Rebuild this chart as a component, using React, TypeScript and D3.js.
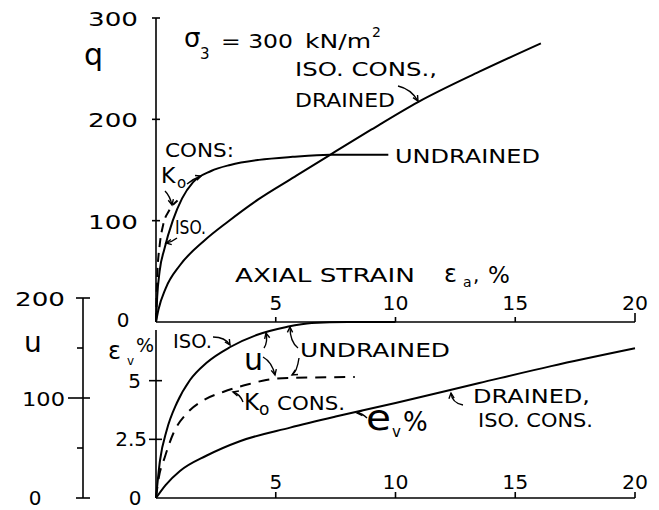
import React from "react";
import * as d3 from "d3";

// ---------- data ----------
const EA_TICKS = [5, 10, 15, 20];
const Q_TICKS = [0, 100, 200, 300];
const U_TICKS = [0, 100, 200];
const U_MINOR = [50, 150];
const EV_TICKS = [0, 2.5, 5];

// top panel: deviator stress q (kN/m2) vs axial strain (%)
const qDrainedIso: [number, number][] = [
  [0, 0], [0.1, 12], [0.4, 33], [1, 56], [2, 80], [3, 99], [4.27, 121],
  [5.8, 143.5], [7.27, 165], [9, 190], [10.94, 217], [13.5, 247], [16.07, 275],
];
const qUndrainedIso: [number, number][] = [
  [0, 0], [0.05, 25], [0.15, 50], [0.35, 72], [0.7, 100], [1.09, 122],
  [1.55, 138], [2.3, 149], [3.1, 155], [4.3, 160], [5.7, 163], [7.27, 165], [9.7, 165],
];
const qUndrainedK0: [number, number][] = [
  [0, 0], [0.05, 45], [0.15, 75], [0.3, 96], [0.55, 110], [0.9, 120],
];

// bottom panel: pore pressure u (kN/m2) and volumetric strain (%)
const uUndrainedIso: [number, number][] = [
  [0, 0], [0.17, 38], [0.45, 68], [0.87, 95], [1.42, 118], [2.1, 135],
  [3.1, 151], [4.2, 163], [5.45, 171], [6.5, 175], [8, 176], [10, 176],
];
const uUndrainedK0: [number, number][] = [
  [0, 0], [0.1, 18], [0.37, 41], [0.73, 65], [1.3, 85], [2.0, 98],
  [2.8, 106], [3.9, 114], [4.6, 118], [5.5, 120], [8.3, 121],
];
const evDrainedIso: [number, number][] = [
  [0, 0], [0.4, 0.55], [1, 1.15], [2.1, 1.8], [3.5, 2.42], [5.6, 3.0],
  [7.5, 3.47], [10, 4.05], [13.5, 4.9], [16.5, 5.62], [20, 6.38],
];

// ---------- scales ----------
const x = d3.scaleLinear().domain([0, 20]).range([156, 635]);
const yq = d3.scaleLinear().domain([0, 300]).range([322, 18]);
const yu = d3.scaleLinear().domain([0, 200]).range([498, 298]);
const yev = d3.scaleLinear().domain([0, 7.5]).range([498, 322]);

const FONT = "DejaVu Sans";

const lineFor = (ys: d3.ScaleLinear<number, number>) =>
  d3
    .line<[number, number]>()
    .x((d) => x(d[0]))
    .y((d) => ys(d[1]))
    .curve(d3.curveMonotoneX);

function T(props: {
  x: number;
  y: number;
  size?: number;
  tl?: number;
  anchor?: string;
  children: React.ReactNode;
}) {
  const { size = 20, tl, anchor = "start" } = props;
  return (
    <text
      x={props.x}
      y={props.y}
      fontFamily={FONT}
      fontSize={size}
      textAnchor={anchor}
      textLength={tl}
      lengthAdjust={tl ? "spacingAndGlyphs" : undefined}
      fill="#000"
    >
      {props.children}
    </text>
  );
}

// little annotation arrow: quadratic from (x0,y0) via (cx,cy) to (x1,y1), head at end
function Arrow({ p }: { p: number[] }) {
  const [x0, y0, cx, cy, x1, y1] = p;
  const ang = Math.atan2(y1 - cy, x1 - cx);
  const L = 6;
  const a1 = ang + Math.PI - 0.45;
  const a2 = ang + Math.PI + 0.45;
  return (
    <g stroke="#000" strokeWidth={1.4} fill="none">
      <path d={`M${x0},${y0}Q${cx},${cy} ${x1},${y1}`} />
      <path
        d={`M${x1 + L * Math.cos(a1)},${y1 + L * Math.sin(a1)}L${x1},${y1}L${
          x1 + L * Math.cos(a2)
        },${y1 + L * Math.sin(a2)}`}
      />
    </g>
  );
}

export default function App() {
  const lq = lineFor(yq);
  const lu = lineFor(yu);
  const lev = lineFor(yev);
  const X0 = x(0);

  return (
    <svg
      width={659}
      height={510}
      style={{ position: "absolute", left: 0, top: 0, background: "#fff" }}
    >
      <rect width={659} height={510} fill="#fff" />

      {/* ---------- TOP PANEL ---------- */}
      <g stroke="#000" strokeWidth={1.6} fill="none">
        <line x1={X0} x2={X0} y1={yq(300)} y2={yq(0)} />
        <line x1={X0} x2={x(20)} y1={yq(0)} y2={yq(0)} />
        {Q_TICKS.filter((v) => v > 0).map((v) => (
          <line key={v} x1={X0 - 4} x2={X0 + 4} y1={yq(v)} y2={yq(v)} />
        ))}
        {EA_TICKS.map((v) => (
          <line key={v} x1={x(v)} x2={x(v)} y1={yq(0)} y2={yq(0) - (v === 20 ? 9 : 5)} />
        ))}
      </g>
      {Q_TICKS.map((v) =>
        v === 0 ? (
          <T key={v} x={123} y={yq(0) + 5} anchor="middle">
            {v}
          </T>
        ) : (
          <T key={v} x={138} y={yq(v) + 8} tl={50} anchor="end">
            {v}
          </T>
        )
      )}
      {EA_TICKS.map((v) => (
        <T key={v} x={x(v)} y={310} anchor="middle" tl={v >= 10 ? 26 : undefined}>
          {v}
        </T>
      ))}

      <g fill="none" stroke="#000" strokeWidth={2}>
        <path d={lq(qDrainedIso) || ""} />
        <path d={lq(qUndrainedIso) || ""} />
        <path d={lq(qUndrainedK0) || ""} strokeDasharray="9,6" />
      </g>

      <T x={84} y={65} size={30}>q</T>
      <T x={184} y={47} size={26}>σ</T>
      <T x={200} y={59} size={15}>3</T>
      <T x={221} y={48} tl={72}>= 300</T>
      <T x={305} y={48} tl={66}>kN/m</T>
      <T x={372} y={37} size={14}>2</T>
      <T x={295} y={76} tl={142}>ISO. CONS.,</T>
      <T x={295} y={107} tl={100}>DRAINED</T>
      <T x={395} y={163} tl={145}>UNDRAINED</T>
      <T x={165} y={157} tl={69}>CONS:</T>
      <T x={161} y={183} size={22}>K</T>
      <T x={177} y={188} size={15}>o</T>
      <T x={175} y={234} tl={31}>ISO.</T>
      <T x={235} y={282} tl={180}>AXIAL  STRAIN</T>
      <T x={444} y={282} size={24}>ε</T>
      <T x={463} y={287} size={14}>a</T>
      <T x={473} y={282}>,</T>
      <T x={488} y={283} size={23}>%</T>

      <Arrow p={[398, 86, 411, 89, 418, 101]} />
      <Arrow p={[165, 191, 170, 196, 172, 205]} />
      <Arrow p={[187, 184, 193, 179, 201, 176]} />
      <Arrow p={[177, 238, 172, 242, 166, 243]} />

      {/* ---------- BOTTOM PANEL ---------- */}
      <g stroke="#000" strokeWidth={1.6} fill="none">
        {/* u axis */}
        <line x1={83} x2={83} y1={yu(200)} y2={yu(0)} />
        {U_TICKS.map((v) => (
          <line key={v} x1={v === 100 ? 68 : 76} x2={90} y1={yu(v)} y2={yu(v)} />
        ))}
        {U_MINOR.map((v) => (
          <line key={v} x1={77} x2={83} y1={yu(v)} y2={yu(v)} />
        ))}
        {/* ev axis */}
        <line x1={X0} x2={X0} y1={330} y2={yev(0)} />
        {EV_TICKS.filter((v) => v > 0).map((v) => (
          <line key={v} x1={X0 - 7} x2={X0 + 6} y1={yev(v)} y2={yev(v)} />
        ))}
        <line x1={X0} x2={x(20)} y1={yev(0)} y2={yev(0)} />
        {EA_TICKS.map((v) => (
          <line key={v} x1={x(v)} x2={x(v)} y1={yev(0)} y2={yev(0) - 6} />
        ))}
      </g>
      {U_TICKS.map((v) =>
        v === 0 ? (
          <T key={v} x={35} y={yu(0) + 7} anchor="middle">
            {v}
          </T>
        ) : (
          <T key={v} x={65} y={yu(v) + 8} tl={v === 200 ? 50 : 43} anchor="end">
            {v}
          </T>
        )
      )}
      {EV_TICKS.map((v) =>
        v === 0 ? (
          <T key={v} x={135} y={yev(0) + 7} anchor="middle">
            {v}
          </T>
        ) : (
          <T key={v} x={v === 5 ? 141 : 147} y={yev(v) + 7} anchor="end">
            {v}
          </T>
        )
      )}
      {EA_TICKS.map((v) => (
        <T key={v} x={x(v)} y={489} anchor="middle" tl={v >= 10 ? 26 : undefined}>
          {v}
        </T>
      ))}

      <g fill="none" stroke="#000" strokeWidth={2}>
        <path d={lu(uUndrainedIso) || ""} />
        <path d={lu(uUndrainedK0) || ""} strokeDasharray="11,8" />
        <path d={lev(evDrainedIso) || ""} />
      </g>

      <T x={24} y={352} size={28}>u</T>
      <T x={108} y={359} size={24}>ε</T>
      <T x={127} y={365} size={12}>v</T>
      <T x={136} y={352} size={19}>%</T>

      <T x={173} y={348} tl={39}>ISO.</T>
      <T x={300} y={357} tl={150}>UNDRAINED</T>
      <T x={244} y={370} size={30}>u</T>
      <T x={244} y={410} size={23}>K</T>
      <T x={259} y={415} size={17}>o</T>
      <T x={277} y={410} tl={68}>CONS.</T>
      <T x={473} y={403} tl={117}>DRAINED,</T>
      <T x={366} y={430} size={36} tl={25}>e</T>
      <T x={392} y={437} size={15}>v</T>
      <T x={403} y={431} size={26}>%</T>
      <T x={478} y={427} tl={115}>ISO.  CONS.</T>

      <Arrow p={[213, 337, 225, 337, 230, 345]} />
      <Arrow p={[298, 348, 290, 342, 290, 327]} />
      <Arrow p={[299, 358, 297, 372, 292, 375]} />
      <Arrow p={[264, 348, 268, 342, 266, 333]} />
      <Arrow p={[263, 357, 272, 362, 275, 375]} />
      <Arrow p={[243, 402, 240, 394, 233, 392]} />
      <Arrow p={[463, 405, 452, 403, 451, 393]} />
      <Arrow p={[367, 418, 362, 413, 357, 413]} />
    </svg>
  );
}
